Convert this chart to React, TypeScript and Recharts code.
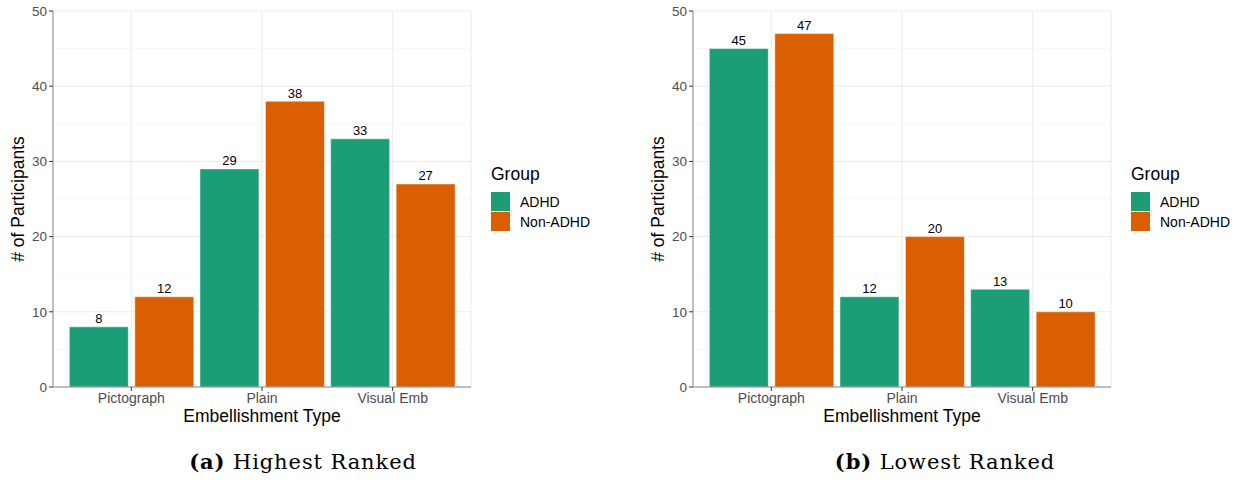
import { Bar, BarChart, CartesianGrid, LabelList, Legend, XAxis, YAxis } from "recharts"

const categories = ["Pictograph", "Plain", "Visual Emb"]
const highestAdhd = [8, 29, 33]
const highestNonAdhd = [12, 38, 27]
const lowestAdhd = [45, 12, 13]
const lowestNonAdhd = [47, 20, 10]
const yTicks = [0, 10, 20, 30, 40, 50]
const yMinor = [5, 15, 25, 35, 45]

const SANS = "'Liberation Sans', Arial, sans-serif"
const GREEN = "#1B9E77"
const ORANGE = "#D95F02"
const BORDER = "#8a8a8a"

const xTitle = ({ viewBox }: any) => (
  <text x={viewBox.x + viewBox.width / 2} y={viewBox.y + 34.5} textAnchor="middle" fontSize={17.5} fill="#000">
    Embellishment Type
  </text>
)

const yTitle = ({ viewBox }: any) => {
  const x = viewBox.x + 24
  const y = viewBox.y + viewBox.height / 2
  return (
    <text x={x} y={y} transform={`rotate(-90, ${x}, ${y})`} textAnchor="middle" fontSize={17.5} fill="#000">
      # of Participants
    </text>
  )
}

const renderLegend = ({ payload }: any) => (
  <div style={{ fontFamily: SANS, color: "#000", textAlign: "left" }}>
    <div style={{ fontSize: 17.5, lineHeight: "20px" }}>Group</div>
    <div style={{ marginTop: 7.5 }}>
      {(payload || []).map((entry: any) => (
        <div key={entry.value} style={{ display: "flex", alignItems: "center", height: 20 }}>
          <span style={{ width: 19, height: 19, background: entry.color, marginRight: 10, display: "inline-block" }} />
          <span style={{ fontSize: 14 }}>{entry.value}</span>
        </div>
      ))}
    </div>
  </div>
)

function RankChart({ adhd, nonAdhd }: { adhd: number[]; nonAdhd: number[] }) {
  const data = categories.map((name, i) => ({ name, adhd: adhd[i], nonAdhd: nonAdhd[i] }))
  return (
    <BarChart
      width={600}
      height={440}
      data={data}
      margin={{ top: 11, right: 129, bottom: 23, left: 0 }}
      barCategoryGap={3.3}
      barGap={6.5}
    >
      <CartesianGrid horizontalValues={yMinor} vertical={false} stroke="#F2F2F2" strokeWidth={0.6} />
      <CartesianGrid horizontalValues={yTicks} stroke="#EBEBEB" strokeWidth={1} />
      <XAxis
        dataKey="name"
        interval={0}
        padding={{ left: 13, right: 13 }}
        height={30}
        tickSize={4}
        tickMargin={2}
        tick={{ fill: "#4D4D4D", fontSize: 14 }}
        tickLine={{ stroke: "#333" }}
        axisLine={{ stroke: BORDER }}
        label={xTitle}
      />
      <XAxis
        xAxisId="top"
        orientation="top"
        dataKey="name"
        height={0}
        tick={false}
        tickLine={false}
        axisLine={{ stroke: BORDER }}
      />
      <YAxis
        width={53}
        domain={[0, 50]}
        ticks={yTicks}
        allowDataOverflow
        tickSize={4}
        tickMargin={2}
        tick={{ fill: "#4D4D4D", fontSize: 13.5 }}
        tickLine={{ stroke: "#333" }}
        axisLine={{ stroke: BORDER }}
        label={yTitle}
      />
      <YAxis
        yAxisId="right"
        orientation="right"
        width={0}
        domain={[0, 50]}
        tick={false}
        tickLine={false}
        axisLine={{ stroke: BORDER }}
      />
      <Legend
        layout="horizontal"
        verticalAlign="middle"
        align="center"
        content={renderLegend}
        wrapperStyle={{ left: 491, top: 164, width: 110 }}
      />
      <Bar dataKey="adhd" name="ADHD" fill={GREEN} stroke="#fff" strokeWidth={0.5} isAnimationActive={false}>
        <LabelList dataKey="adhd" position="top" offset={3.5} fill="#000" fontSize={13} />
      </Bar>
      <Bar dataKey="nonAdhd" name="Non-ADHD" fill={ORANGE} stroke="#fff" strokeWidth={0.5} isAnimationActive={false}>
        <LabelList dataKey="nonAdhd" position="top" offset={3.5} fill="#000" fontSize={13} />
      </Bar>
    </BarChart>
  )
}

const captionStyle: any = {
  position: "absolute",
  top: 448,
  fontFamily: "'DejaVu Serif', serif",
  fontSize: 21,
  letterSpacing: 0.9,
  lineHeight: "28px",
  textAlign: "center",
  color: "#000",
}

export default function App() {
  return (
    <div style={{ position: "absolute", left: 0, top: 0, width: 1241, height: 480, background: "#fff", fontFamily: SANS }}>
      <div style={{ position: "absolute", left: 0, top: 0 }}>
        <RankChart adhd={highestAdhd} nonAdhd={highestNonAdhd} />
      </div>
      <div style={{ position: "absolute", left: 640, top: 0 }}>
        <RankChart adhd={lowestAdhd} nonAdhd={lowestNonAdhd} />
      </div>
      <div style={{ ...captionStyle, left: 0, width: 606 }}>
        <b>(a)</b> Highest Ranked
      </div>
      <div style={{ ...captionStyle, left: 640, width: 610 }}>
        <b>(b)</b> Lowest Ranked
      </div>
    </div>
  )
}
